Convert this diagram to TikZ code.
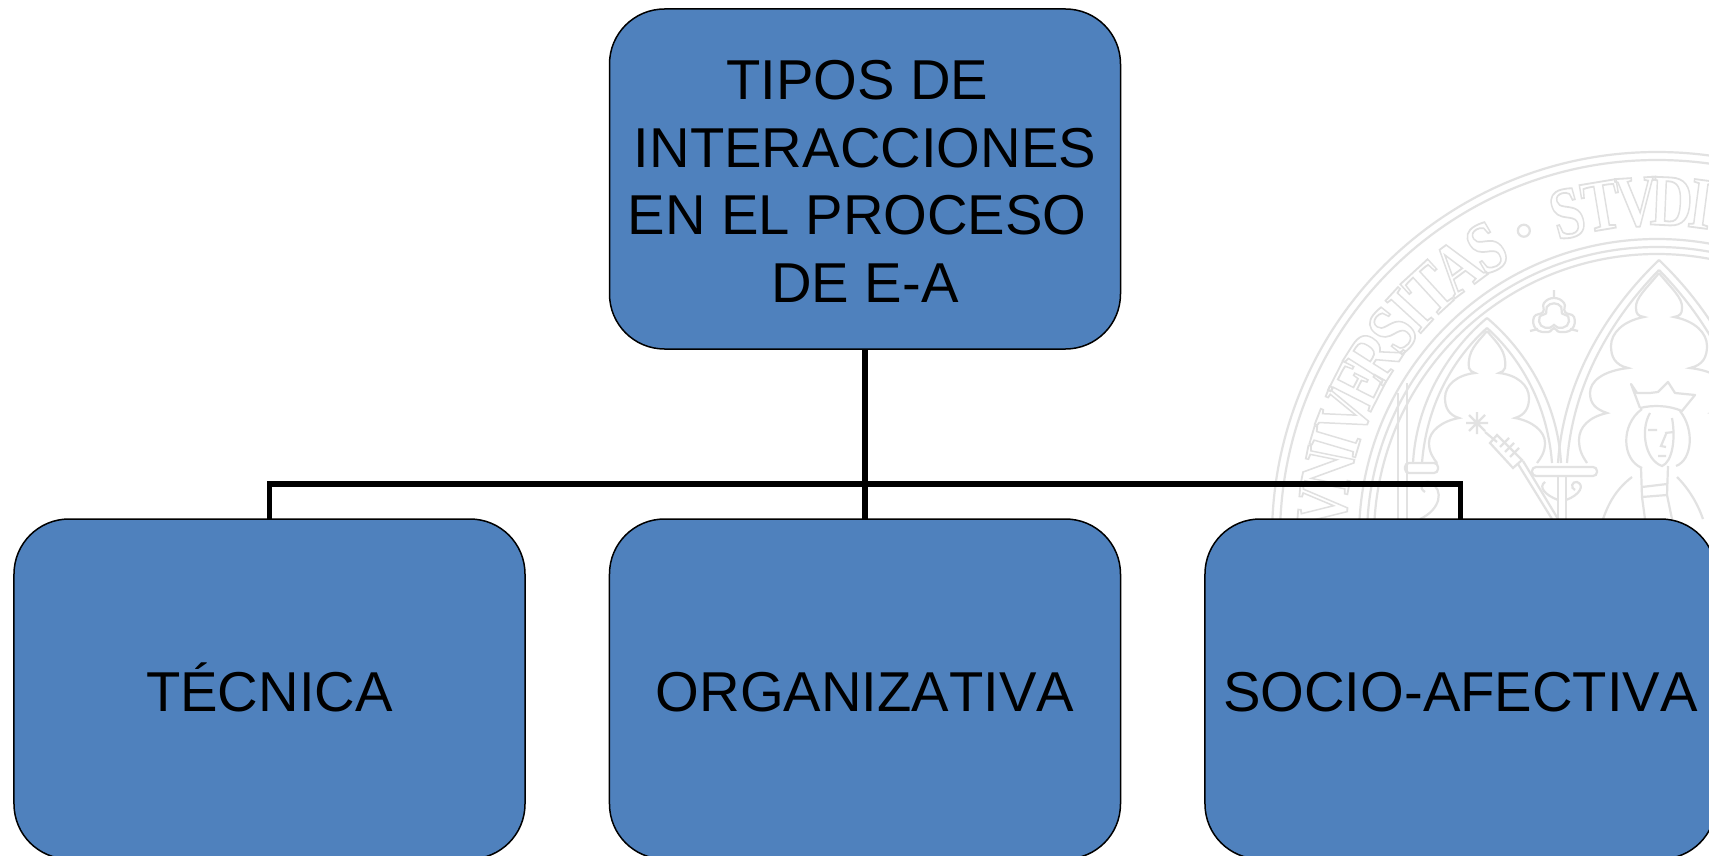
\documentclass[tikz,border=0pt]{standalone}
\usepackage{fontspec}
\setmainfont{Liberation Sans}[Kerning=Off]
\newfontfamily\sealfont{Liberation Serif}
\usetikzlibrary{calc, matrix}

\definecolor{boxblue}{HTML}{4F81BD}
\definecolor{sealgray}{HTML}{E2E2E2}
\newcommand{\sealglyph}[1]{\scalebox{.8}[1]{\special{pdf:code q 1 Tr 1.8 w 0.88 G}#1\special{pdf:code Q}}}

\tikzset{
	tipobox/.style={draw=black, fill=boxblue, line width=1.5pt, rounded corners=55pt,
		minimum width=511pt, minimum height=340pt, inner sep=0pt, outer sep=0pt,
		font=\fontsize{56.2}{67.5}\selectfont},
	conn/.style={draw=black, line width=5.6pt},
	sealline/.style={draw=sealgray, line width=2.2pt},
	sealletter/.style={inner sep=0pt, text height=48pt, text depth=0pt, font=\sealfont\bfseries\fontsize{73}{73}\selectfont}
}

\begin{document}
\begin{tikzpicture}[x=1pt, y=-1pt]
	\useasboundingbox (0,0) rectangle (1709,856);
	\fill[white] (0,0) rectangle (1709,856);
	\clip (0,0) rectangle (1709,856);

	% seal behind the boxes
	\coordinate (sealcentre) at (1657,537);
	\foreach \rad in {385,377,298,290,283}
		\draw[sealline] (sealcentre) circle (\rad pt);
	\foreach \letter/\ang [count=\i] in {V/85,N/78.5,I/73.5,V/68.5,E/63,R/57.5,S/52,I/47.5,T/42.5,A/36.5,S/30.5,S/15.5,T/9.5,V/3.5,D/-2.5,I/-7.5}
		\node[sealletter, rotate=\ang] (glyph\i) at ($(sealcentre)+(90+\ang:336pt)$) {\sealglyph{\letter}};
	\draw[sealline] ($(sealcentre)+(113.5:334pt)$) circle (6pt);
	\draw[sealline] (1398,519) -- (1398,393) (1407,519) -- (1407,383);

	% left arch
	\foreach \sx in {1,-1} {
		\begin{scope}[shift={(1487,463)}, xscale=\sx]
			\draw[sealline] (-74,0) .. controls (-70,-70) and (-30,-120) .. (0,-145);
			\draw[sealline] (-65,0) .. controls (-60,-65) and (-28,-110) .. (0,-135);
			\draw[sealline] (0,-132) .. controls (-10,-120) and (-20,-112) .. (-18,-95)
				.. controls (-17,-92) and (-15,-91) .. (-12,-90)
				.. controls (-30,-88) and (-42,-78) .. (-42,-65)
				.. controls (-42,-55) and (-38,-48) .. (-28,-45)
				.. controls (-45,-42) and (-58,-32) .. (-58,-20)
				.. controls (-58,-10) and (-53,-4) .. (-50,0);
		\end{scope}
	}
	% right arch
	\foreach \sx in {1,-1} {
		\begin{scope}[shift={(1659,463)}, xscale=\sx]
			\draw[sealline] (-101,0) .. controls (-95,-90) and (-45,-160) .. (0,-203);
			\draw[sealline] (-92,0) .. controls (-86,-85) and (-42,-150) .. (0,-193);
			\draw[sealline] (0,-190) .. controls (-12,-175) and (-24,-165) .. (-23,-155)
				.. controls (-23,-149) and (-21,-147) .. (-15,-146)
				.. controls (-36,-142) and (-48,-130) .. (-48,-117)
				.. controls (-48,-106) and (-44,-98) .. (-31,-95)
				.. controls (-56,-92) and (-69,-82) .. (-69,-70)
				.. controls (-69,-60) and (-64,-54) .. (-52,-50)
				.. controls (-70,-46) and (-80,-36) .. (-80,-23)
				.. controls (-80,-12) and (-76,-6) .. (-72,0);
		\end{scope}
	}
	\draw[sealline, rounded corners=4pt] (1405,463) rectangle (1438,473);
	\draw[sealline, rounded corners=4pt] (1532,467) rectangle (1597,476);

	% trefoil
	\foreach \rad in {1,.72}
		\draw[sealline, shift={(1554,317)}, scale=\rad] plot[smooth cycle, tension=.8] coordinates
			{(0,-19) (10,-14) (11,-5) (20,0) (18,12) (6,15) (0,11) (-6,15) (-18,12) (-20,0) (-11,-5) (-10,-14)};
	\draw[sealline] (1530,331) -- (1538,329) (1578,331) -- (1570,329) (1554,290) -- (1554,298);

	% scepter
	\draw[sealline] (1466,423) -- (1488,423) (1477,412) -- (1477,434) (1469,415) -- (1485,431) (1485,415) -- (1469,431);
	\draw[sealline] (1485,432) -- (1497,442);
	\draw[sealline] (1497,435) -- (1490,443) -- (1513,468) -- (1522,460) -- cycle;
	\draw[sealline] (1518,464) -- (1552,519) (1523,461) -- (1558,519);
	\draw[sealline] (1500,447) -- (1509,438) (1505,452) -- (1514,443) (1510,457) -- (1519,448);

	% capital foliage
	\draw[sealline] (1558,476) -- (1558,519) (1566,476) -- (1566,519);
	\draw[sealline] (1566,500) .. controls (1580,495) and (1585,485) .. (1577,482) .. controls (1572,481) and (1570,488) .. (1575,490);
	\draw[sealline] (1558,500) .. controls (1545,495) and (1538,487) .. (1545,482);
	\draw[sealline] (1420,519) .. controls (1440,510) and (1445,490) .. (1430,482) .. controls (1422,480) and (1418,488) .. (1425,492);

	% queen
	\draw[sealline, line join=round] (1640,408) -- (1631,384) -- (1637,393) -- (1650,393) -- (1658,392) -- (1668,382) -- (1675,393) -- (1695,395) -- (1682,411) .. controls (1668,405) and (1652,405) .. (1640,408);
	\draw[sealline] (1642,409) .. controls (1620,425) and (1622,460) .. (1642,468) (1680,411) .. controls (1695,430) and (1692,460) .. (1676,466);
	\draw[sealline] (1650,413) .. controls (1640,430) and (1645,460) .. (1662,466) .. controls (1672,462) and (1676,440) .. (1672,418);
	\draw[sealline] (1648,430) -- (1657,430) (1665,433) -- (1674,432) (1666,434) -- (1661,446) -- (1666,447) (1658,456) -- (1666,456);
	\draw[sealline] (1641,468) -- (1642,497) (1668,466) -- (1667,495) (1642,487) -- (1667,484) (1642,497) -- (1667,495);
	\draw[sealline] (1632,477) .. controls (1615,490) and (1608,505) .. (1603,519) (1677,477) .. controls (1690,490) and (1698,505) .. (1703,519);
	\draw[sealline] (1642,497) -- (1645,519) (1667,495) -- (1672,519);

	% boxes
	\node[tipobox, align=center] (tipos) at (865,179) {\rule{0pt}{43.5pt}TIPOS DE\mbox{ }\\INTERACCIONES\\EN EL PROCESO\mbox{ }\\DE E-A};
	\matrix(fila)[matrix of nodes, ampersand replacement=\&, column sep=83pt, inner sep=0pt,
		nodes={tipobox, text height=45pt, text depth=0pt}] at (865,689)
	{
		|(tecnica)| TÉCNICA \& |(organizativa)| ORGANIZATIVA \& |(socio)| SOCIO-AFECTIVA\\
	};

	\coordinate (bus) at (865,484);
	\draw[conn] (tipos.south) -- (bus);
	\draw[conn] (organizativa.north) -- (bus);
	\draw[conn] (tecnica.north) |- (bus);
	\draw[conn] (socio.north) |- (bus);
\end{tikzpicture}
\end{document}
